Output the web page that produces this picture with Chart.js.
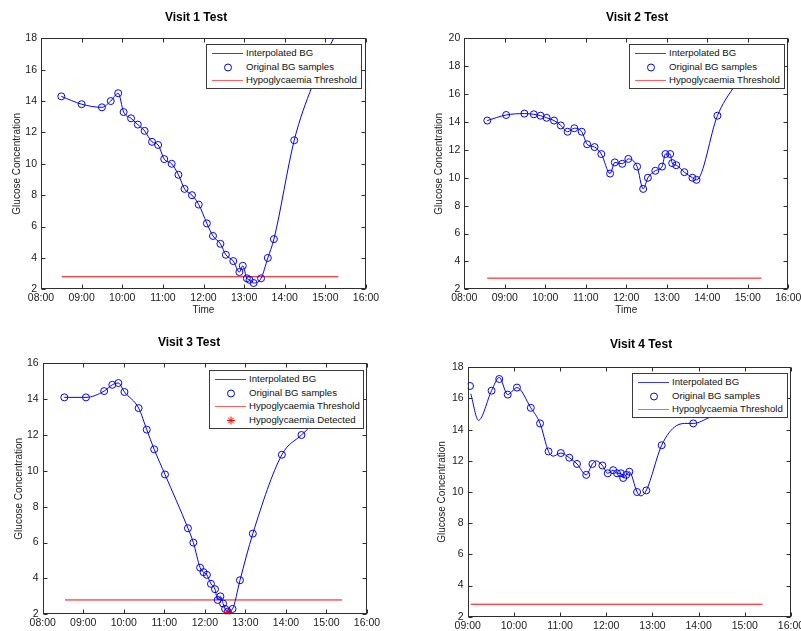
<!DOCTYPE html>
<html>
<head>
<meta charset="utf-8">
<script src="https://cdn.jsdelivr.net/npm/chart.js@4.4.1/dist/chart.umd.min.js"></script>
<style>
html,body{margin:0;padding:0;background:#fff;overflow:hidden;width:801px;height:631px;}
#wrap{position:relative;width:801px;height:631px;overflow:hidden;background:#fff;}
canvas{position:absolute;}
.legend{position:absolute;box-sizing:border-box;border:1px solid #3a3a3a;background:#fff;font:9.6px "Liberation Sans",Arial,sans-serif;color:#111;}
.row{position:absolute;left:0;right:0;height:14px;line-height:14px;white-space:nowrap;}
.row svg{position:absolute;left:4px;top:0;}
.row .ln{position:absolute;left:5px;width:31px;top:7px;height:0;border-top:1px solid;}
.row span{position:absolute;left:39px;top:0;}
</style>
</head>
<body>
<div id="wrap"></div>
<script>
// ---------------- DATA ----------------
const xTickLabels123 = ['08:00','09:00','10:00','11:00','12:00','13:00','14:00','15:00','16:00'];
const xTickLabels4   = ['09:00','10:00','11:00','12:00','13:00','14:00','15:00','16:00'];
const yTicksVisit1 = [2,4,6,8,10,12,14,16,18];
const yTicksVisit2 = [2,4,6,8,10,12,14,16,18,20];
const yTicksVisit3 = [2,4,6,8,10,12,14,16];
const yTicksVisit4 = [2,4,6,8,10,12,14,16,18];

const hypoThreshold = 2.8;
const thresholdSpan1 = ['08:31','15:19'];
const thresholdSpan2 = ['08:34','15:20'];
const thresholdSpan3 = ['08:33','15:23'];
const thresholdSpan4 = ['09:04','15:23'];

// Visit 1
const visit1Times = ['08:30','09:00','09:30','09:43','09:54','10:02','10:13','10:23','10:33','10:44','10:53','11:02','11:13','11:23','11:32','11:43','11:53','12:05','12:14','12:25','12:33','12:44','12:53','12:58','13:04','13:08','13:14','13:25','13:35','13:44','14:14'];
const visit1Glucose = [14.3,13.8,13.6,14.0,14.5,13.3,12.9,12.5,12.1,11.4,11.2,10.3,10.0,9.3,8.4,8.0,7.4,6.2,5.4,4.9,4.2,3.8,3.1,3.5,2.7,2.6,2.4,2.7,4.0,5.2,11.5];
const visit1CurveEndTimes = ['14:40','15:00','15:20'];
const visit1CurveEndGlucose = [14.9,16.9,18.7];

// Visit 2
const visit2Times = ['08:34','09:02','09:29','09:43','09:53','10:02','10:13','10:23','10:33','10:43','10:54','11:02','11:13','11:23','11:36','11:43','11:54','12:03','12:16','12:25','12:32','12:43','12:53','12:58','13:05','13:08','13:14','13:26','13:38','13:44','14:15'];
const visit2Glucose = [14.1,14.5,14.6,14.55,14.45,14.3,14.1,13.75,13.3,13.55,13.3,12.4,12.2,11.7,10.3,11.1,11.0,11.35,10.8,9.2,10.0,10.5,10.8,11.7,11.7,11.05,10.9,10.4,10.0,9.85,14.45];
const visit2CurveEndTimes = ['14:38','15:00','15:30'];
const visit2CurveEndGlucose = [16.4,17.6,18.8];

// Visit 3
const visit3Times = ['08:32','09:04','09:31','09:43','09:52','10:01','10:22','10:34','10:45','11:01','11:35','11:43','11:53','11:58','12:03','12:09','12:15','12:19','12:23','12:27','12:30','12:34','12:41','12:52','13:11','13:54','14:23'];
const visit3Glucose = [14.1,14.1,14.45,14.8,14.9,14.4,13.5,12.3,11.2,9.8,6.8,6.0,4.6,4.35,4.2,3.7,3.4,2.8,3.0,2.6,2.3,2.15,2.3,3.9,6.5,10.9,12.0];
const visit3CurveEndTimes = ['14:40','15:10'];
const visit3CurveEndGlucose = [12.6,13.6];
const visit3HypoTimes = ['12:34'];
const visit3HypoGlucose = [2.1];

// Visit 4
const visit4Times = ['09:03','09:31','09:41','09:52','10:04','10:22','10:34','10:45','11:01','11:12','11:22','11:34','11:42','11:55','12:02','12:09','12:14','12:19','12:22','12:26','12:30','12:40','12:52','13:12','13:53'];
const visit4Glucose = [16.8,16.5,17.25,16.25,16.7,15.4,14.4,12.6,12.5,12.2,11.8,11.1,11.8,11.7,11.2,11.4,11.2,11.2,10.9,11.1,11.3,10.0,10.1,13.0,14.4];
const visit4CurveTimes = ['09:04','09:14','09:31','09:41','09:52','10:04','10:22','10:34','10:45','10:51','11:01','11:12','11:22','11:34','11:42','11:47','11:55','12:02','12:09','12:14','12:19','12:22','12:26','12:30','12:40','12:45','12:52','13:12','13:31','13:45','13:53','14:15','14:40','15:10'];
const visit4CurveGlucose = [16.3,14.6,16.5,17.35,16.25,16.7,15.4,14.4,12.6,12.3,12.5,12.2,11.8,11.1,11.8,12.0,11.7,11.2,11.4,11.2,11.2,10.9,11.1,11.3,10.0,9.75,10.1,13.0,14.25,14.4,14.4,14.8,15.3,16.0];

// ---------------- helpers ----------------
const FONT = "'Liberation Sans', Arial, sans-serif";
function toH(s){ const p = s.split(':').map(Number); return p[0] + p[1]/60; }
function fmt(v){ const h = Math.floor(v + 1e-6); const m = Math.round((v - h) * 60); return String(h).padStart(2,'0') + ':' + String(m).padStart(2,'0'); }
function pts(times, vals){ return times.map((t,i) => ({x: toH(t), y: vals[i]})); }

const framePlugin = {
  id: 'frame',
  afterDatasetsDraw(chart){
    const {ctx, chartArea: a, scales} = chart;
    const x = scales.x, y = scales.y;
    const L = Math.round(a.left) + 0.5, R = Math.round(a.right) - 0.5;
    const T = Math.round(a.top) + 0.5, B = Math.round(a.bottom) - 0.5;
    ctx.save();
    ctx.strokeStyle = '#2e2e2e';
    ctx.lineWidth = 1;
    ctx.strokeRect(L, T, R - L, B - T);
    ctx.beginPath();
    x.ticks.forEach(t => {
      const px = Math.round(x.getPixelForValue(t.value)) + 0.5;
      ctx.moveTo(px, B); ctx.lineTo(px, B - 4);
      ctx.moveTo(px, T); ctx.lineTo(px, T + 4);
    });
    y.ticks.forEach(t => {
      const py = Math.round(y.getPixelForValue(t.value)) + 0.5;
      ctx.moveTo(L, py); ctx.lineTo(L + 4, py);
      ctx.moveTo(R, py); ctx.lineTo(R - 4, py);
    });
    ctx.stroke();
    ctx.restore();
  }
};

const wrap = document.getElementById('wrap');

function makePanel(p){
  const c = document.createElement('canvas');
  c.width = p.W; c.height = p.H;
  c.style.left = p.cl + 'px'; c.style.top = p.ct + 'px';
  c.style.width = p.W + 'px'; c.style.height = p.H + 'px';
  wrap.appendChild(c);

  const titleSize = 12, axisSize = 10, tickSize = 10.5;
  const lhT = titleSize * 1.2, lhA = axisSize * 1.2;
  const tPadTop = p.titleY - p.ct - lhT / 2;
  const tPadBot = (p.plotT - p.ct) - tPadTop - lhT;
  const yW = p.plotL - p.cl;
  const rW = p.cl + p.W - p.plotR;
  const xH = p.ct + p.H - p.plotB;
  const yTitlePad = p.ylabX - p.cl - lhA / 2;
  const xTitlePad = p.ct + p.H - p.xlabY - lhA / 2;

  const xTickVals = p.xTicks.map(toH);
  const datasets = [
    {label: 'Interpolated BG', data: p.curve, borderColor: '#0000ff', borderWidth: 1,
     pointRadius: 0, cubicInterpolationMode: 'monotone', fill: false, order: 2},
    {label: 'Original BG samples', data: p.samples, showLine: false, pointStyle: 'circle',
     pointRadius: 3.5, borderColor: '#0000ff', backgroundColor: 'rgba(0,0,0,0)',
     pointBorderColor: '#0000ff', pointBackgroundColor: 'rgba(0,0,0,0)', pointBorderWidth: 1, order: 1},
    {label: 'Hypoglycaemia Threshold', data: p.threshold, borderColor: '#ff0000', borderWidth: 1,
     pointRadius: 0, fill: false, order: 3}
  ];
  if (p.hypo) datasets.push({label: 'Hypoglycaemia Detected', data: p.hypo, showLine: false,
     pointStyle: 'star', pointRadius: 4, pointBorderColor: '#ff0000', borderColor: '#ff0000',
     pointBorderWidth: 1, order: 0});

  new Chart(c, {
    type: 'line',
    data: {datasets},
    options: {
      responsive: false, animation: false, devicePixelRatio: 1,
      layout: {padding: 0, autoPadding: false},
      events: [],
      plugins: {
        legend: {display: false}, tooltip: {enabled: false},
        title: {display: true, text: p.title, color: '#000',
          font: {family: FONT, size: titleSize, weight: 'bold'},
          padding: {top: tPadTop, bottom: tPadBot}}
      },
      scales: {
        x: {type: 'linear', position: 'bottom',
          min: xTickVals[0], max: xTickVals[xTickVals.length - 1],
          afterFit: s => { s.height = xH; },
          afterBuildTicks: s => { s.ticks = xTickVals.map(v => ({value: v})); },
          ticks: {autoSkip: false, maxRotation: 0, padding: 3, color: '#1a1a1a',
            font: {family: FONT, size: tickSize}, callback: v => fmt(v)},
          grid: {display: false, drawTicks: false}, border: {display: false},
          title: {display: true, text: 'Time', color: '#1a1a1a',
            font: {family: FONT, size: axisSize}, padding: {top: 0, bottom: xTitlePad}}
        },
        y: {type: 'linear', position: 'left',
          min: p.yTicks[0], max: p.yTicks[p.yTicks.length - 1],
          afterFit: s => { s.width = yW; },
          afterBuildTicks: s => { s.ticks = p.yTicks.map(v => ({value: v})); },
          ticks: {padding: 4, color: '#1a1a1a', font: {family: FONT, size: tickSize}},
          grid: {display: false, drawTicks: false}, border: {display: false},
          title: {display: true, text: 'Glucose Concentration', color: '#1a1a1a',
            font: {family: FONT, size: axisSize}, padding: {top: yTitlePad, bottom: 0}}
        },
        yR: {type: 'linear', position: 'right', display: true,
          afterFit: s => { s.width = rW; },
          ticks: {display: false}, grid: {display: false, drawTicks: false}, border: {display: false}
        }
      }
    },
    plugins: [framePlugin]
  });

  // legend box
  const lg = document.createElement('div');
  lg.className = 'legend';
  lg.style.left = p.legend.left + 'px'; lg.style.top = p.legend.top + 'px';
  lg.style.width = p.legend.width + 'px';
  lg.style.height = (p.legend.rows * 13.5 + 4.5) + 'px';
  const sym = {
    line: '<div class="ln" style="border-top-color:#3a3aff"></div>',
    circle: '<svg width="34" height="14"><circle cx="17" cy="7.5" r="3.5" fill="none" stroke="#0000ff" stroke-width="1"/></svg>',
    red: '<div class="ln" style="border-top-color:#ff6060"></div>',
    star: '<svg width="34" height="14"><g stroke="#ff0000" stroke-width="1"><line x1="13" y1="7.5" x2="21" y2="7.5"/><line x1="17" y1="3.5" x2="17" y2="11.5"/><line x1="14.2" y1="4.7" x2="19.8" y2="10.3"/><line x1="14.2" y1="10.3" x2="19.8" y2="4.7"/></g></svg>'
  };
  const items = [['line','Interpolated BG'],['circle','Original BG samples'],['red','Hypoglycaemia Threshold']];
  if (p.hypo) items.push(['star','Hypoglycaemia Detected']);
  items.forEach((it, i) => {
    const r = document.createElement('div');
    r.className = 'row';
    r.style.top = (1 + 13.5 * i) + 'px';
    r.innerHTML = sym[it[0]] + '<span>' + it[1] + '</span>';
    lg.appendChild(r);
  });
  wrap.appendChild(lg);
}

function thrPts(span){ return [{x: toH(span[0]), y: hypoThreshold}, {x: toH(span[1]), y: hypoThreshold}]; }

makePanel({title: 'Visit 1 Test', cl: 0, ct: 0, W: 392, H: 320,
  plotL: 41, plotT: 38.3, plotR: 366, plotB: 289.3, titleY: 17.5, ylabX: 17, xlabY: 310,
  xTicks: xTickLabels123, yTicks: yTicksVisit1,
  samples: pts(visit1Times, visit1Glucose),
  curve: pts(visit1Times.concat(visit1CurveEndTimes), visit1Glucose.concat(visit1CurveEndGlucose)),
  threshold: thrPts(thresholdSpan1),
  legend: {left: 206, top: 44, width: 156, rows: 3}});

makePanel({title: 'Visit 2 Test', cl: 400, ct: 0, W: 474, H: 320,
  plotL: 464.3, plotT: 38.3, plotR: 788.3, plotB: 289.3, titleY: 17.5, ylabX: 439.5, xlabY: 310,
  xTicks: xTickLabels123, yTicks: yTicksVisit2,
  samples: pts(visit2Times, visit2Glucose),
  curve: pts(visit2Times.concat(visit2CurveEndTimes), visit2Glucose.concat(visit2CurveEndGlucose)),
  threshold: thrPts(thresholdSpan2),
  legend: {left: 629, top: 44, width: 156, rows: 3}});

makePanel({title: 'Visit 3 Test', cl: -20, ct: 320, W: 418, H: 330,
  plotL: 42.7, plotT: 363.3, plotR: 367, plotB: 614.3, titleY: 343, ylabX: 19, xlabY: 642,
  xTicks: xTickLabels123, yTicks: yTicksVisit3,
  samples: pts(visit3Times, visit3Glucose),
  curve: pts(visit3Times.concat(visit3CurveEndTimes), visit3Glucose.concat(visit3CurveEndGlucose)),
  threshold: thrPts(thresholdSpan3),
  hypo: pts(visit3HypoTimes, visit3HypoGlucose),
  legend: {left: 209, top: 370, width: 155, rows: 4}});

makePanel({title: 'Visit 4 Test', cl: 400, ct: 320, W: 482, H: 330,
  plotL: 467.7, plotT: 367.3, plotR: 791, plotB: 616.7, titleY: 345, ylabX: 442.5, xlabY: 642,
  xTicks: xTickLabels4, yTicks: yTicksVisit4,
  samples: pts(visit4Times, visit4Glucose),
  curve: pts(visit4CurveTimes, visit4CurveGlucose),
  threshold: thrPts(thresholdSpan4),
  legend: {left: 632, top: 373, width: 156, rows: 3}});
</script>
</body>
</html>
